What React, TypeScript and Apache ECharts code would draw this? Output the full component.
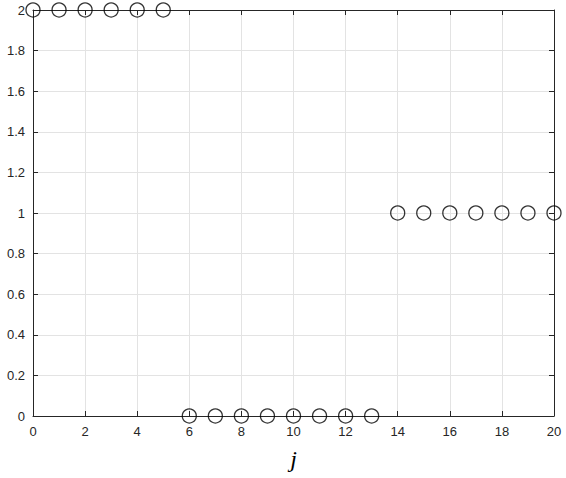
import React, { useEffect, useRef } from "react";
import * as echarts from "echarts";

const jValues = [0, 1, 2, 3, 4, 5, 6, 7, 8, 9, 10, 11, 12, 13, 14, 15, 16, 17, 18, 19, 20];
const yValues = [2, 2, 2, 2, 2, 2, 0, 0, 0, 0, 0, 0, 0, 0, 1, 1, 1, 1, 1, 1, 1];
const xTickLabels = ["0", "2", "4", "6", "8", "10", "12", "14", "16", "18", "20"];
const yTickLabels = ["0", "0.2", "0.4", "0.6", "0.8", "1", "1.2", "1.4", "1.6", "1.8", "2"];

export default function App() {
  const ref = useRef<HTMLDivElement>(null);
  useEffect(() => {
    if (!ref.current) return;
    const chart = echarts.init(ref.current, undefined, { renderer: "svg" });
    const axisColor = "#262626";
    const font = "'Liberation Sans', Arial, Helvetica, sans-serif";
    const common = {
      type: "value" as const,
      axisLine: { show: true, onZero: false, lineStyle: { color: axisColor, width: 1 } },
      axisTick: { show: true, inside: true, length: 5, lineStyle: { color: axisColor } },
      splitLine: { show: false },
    };
    chart.setOption({
      animation: false,
      backgroundColor: "#ffffff",
      grid: { left: 33, right: 12, top: 10, bottom: 62, containLabel: false, outerBoundsMode: "none" },
      xAxis: [
        {
          ...common,
          position: "bottom",
          min: 0,
          max: 20,
          interval: 2,
          splitLine: { show: true, lineStyle: { color: "#e3e3e3", width: 1 } },
          axisLabel: {
            color: axisColor,
            fontFamily: font,
            fontSize: 13,
            margin: 9,
            formatter: (v: number) => xTickLabels[Math.round(v / 2)] ?? "",
          },
          name: "j",
          nameLocation: "middle",
          nameGap: 31,
          nameTextStyle: {
            fontFamily: "'Liberation Serif', 'DejaVu Serif', serif",
            fontStyle: "italic",
            fontSize: 24,
            color: "#000000",
          },
        },
        {
          ...common,
          position: "top",
          min: 0,
          max: 20,
          interval: 2,
          axisLabel: { show: false },
        },
      ],
      yAxis: [
        {
          ...common,
          position: "left",
          min: 0,
          max: 2,
          interval: 0.2,
          splitLine: { show: true, lineStyle: { color: "#e3e3e3", width: 1 } },
          axisLabel: {
            color: axisColor,
            fontFamily: font,
            fontSize: 13,
            margin: 8,
            formatter: (v: number) => yTickLabels[Math.round(v / 0.2)] ?? "",
          },
        },
        {
          ...common,
          position: "right",
          min: 0,
          max: 2,
          interval: 0.2,
          axisLabel: { show: false },
        },
      ],
      series: [
        {
          type: "scatter",
          data: jValues.map((j, i) => [j, yValues[i]]),
          symbol: "circle",
          symbolSize: 14,
          itemStyle: { color: "rgba(0,0,0,0)", borderColor: "#000000", borderWidth: 1.3 },
          clip: false,
          z: 5,
        },
      ],
    });
    return () => chart.dispose();
  }, []);
  return (
    <div
      ref={ref}
      style={{ position: "fixed", left: 0, top: 0, width: 566, height: 478, background: "#fff" }}
    />
  );
}
